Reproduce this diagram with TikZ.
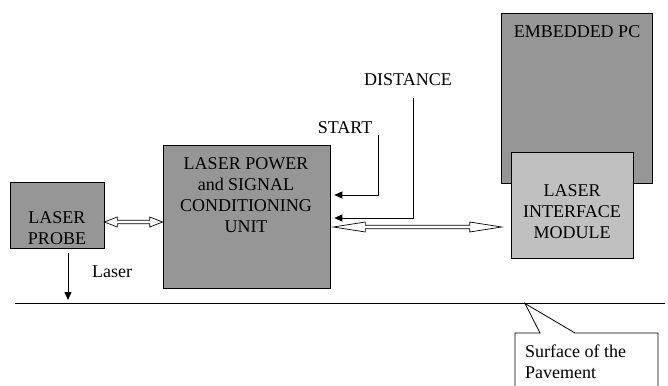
\documentclass[tikz,border=0pt]{standalone}
\usepackage{fontspec}
\setmainfont{Liberation Serif}
\usepackage{tikz}
\usetikzlibrary{arrows.meta, positioning, calc}

\definecolor{boxdark}{RGB}{150,150,150}
\definecolor{boxlight}{RGB}{192,192,192}

% hollow two-headed link: head length, from, to
\newcommand{\hollowlink}[3]{%
  \draw[link] let \p1=(#2), \p2=(#3) in
    (\x1,\y1) -- (\x1+#1,\y1+5pt) -- (\x1+#1,\y1+1.8pt) -- (\x2-#1,\y2+1.8pt)
    -- (\x2-#1,\y2+5pt) -- (\x2,\y2) -- (\x2-#1,\y2-5pt) -- (\x2-#1,\y2-1.8pt)
    -- (\x1+#1,\y1-1.8pt) -- (\x1+#1,\y1-5pt) -- cycle;}

\begin{document}
\begin{tikzpicture}[
    x=1pt, y=-1pt,
    font=\fontsize{18}{21}\selectfont,
    >={Triangle[length=8pt,width=7pt]},
    block/.style={draw, fill=boxdark, line width=0.7pt, inner sep=0pt},
    txt/.style={align=center, inner sep=0pt},
    sig/.style={->, line width=0.8pt},
    link/.style={draw, fill=white, line width=0.7pt}
]
    \useasboundingbox (0,0) rectangle (668,385);

    % Blocks
    \node[block, minimum width=94pt, minimum height=66pt] (probe) at (57,215) {};
    \node[block, minimum width=167pt, minimum height=143pt] (unit) at (246.5,216.5) {};
    \node[block, minimum width=151pt, minimum height=170pt] (pc) at (576.5,98) {};
    \node[block, fill=boxlight, minimum width=122pt, minimum height=106pt] (lim) at (572,205) {};

    % Block texts
    \node[txt] (probetxt) at (57,228) {LASER\\PROBE};
    \node[txt] (unittxt) at (246,195) {LASER POWER\\and SIGNAL\\CONDITIONING\\UNIT};
    \node[txt] (pctxt) at (577,32) {EMBEDDED PC};
    \node[txt] (limtxt) at (572,212) {LASER\\INTERFACE\\MODULE};

    % Signals
    \node[txt] (start) at (345,128) {START};
    \node[txt] (dist) at (408,80) {DISTANCE};
    \coordinate (s1) at (378,135);
    \coordinate (sc) at (378,195);
    \coordinate (d1) at (413,98);
    \coordinate (dc) at (413,218);
    \draw[sig, shorten >=4pt] (s1) -- (sc) -- (sc -| unit.east);
    \draw[sig, shorten >=4pt] (d1) -- (dc) -- (dc -| unit.east);

    % Data links
    \coordinate (pk) at (130,222);
    \coordinate (lk) at (420,227);
    \hollowlink{13pt}{pk -| probe.east}{pk -| unit.west}
    \hollowlink{32pt}{$(lk -| unit.east)+(3,0)$}{$(lk -| lim.west)+(-9,0)$}

    % Pavement
    \coordinate (gl) at (15,303);
    \coordinate (gr) at (665,303);
    \draw[line width=0.8pt] (gl) -- (gr);
    \coordinate (lz) at (68,253);
    \draw[sig, shorten >=3pt] (lz) -- (lz |- gl);
    \node[anchor=west, inner sep=0pt] (lasertxt) at (92,272) {Laser};

    % Callout
    \draw[fill=white, line width=0.8pt] (515,386) -- (515,333) -- (540,333) -- (525,303.5)
        -- (575,333) -- (658,333) -- (658,386);
    \node[anchor=west, align=left, inner sep=0pt] (surftxt) at (525,362) {Surface of the\\Pavement};
\end{tikzpicture}
\end{document}
